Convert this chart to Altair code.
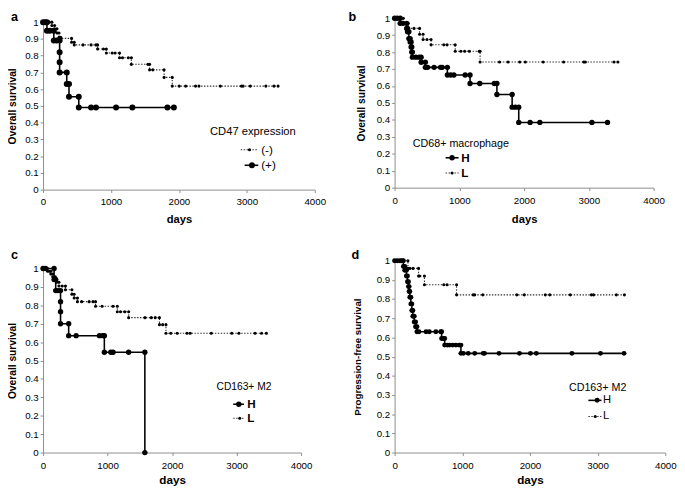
import altair as alt
import pandas as pd

FONT = "Liberation Sans"

# ---------------- data (days, survival) ----------------
# Panel a: CD47 expression
a_neg_t = [0, 45, 90, 130, 130, 170, 170, 205, 205, 235, 235, 260, 260, 420, 420, 459, 459, 588, 707, 779, 803,
           803, 889, 932, 932, 1018, 1061, 1126, 1126, 1170, 1255, 1300, 1300, 1544, 1568, 1568, 1616, 1782,
           1782, 1902, 1902, 2005, 2100, 2245, 2295, 2610, 2920, 2945, 3050, 3280, 3400, 3460]
a_neg_s = [1, 1, 1, 1, 0.98, 0.98, 0.96, 0.96, 0.935, 0.935, 0.91, 0.91, 0.903, 0.903, 0.88, 0.88, 0.864, 0.864,
           0.864, 0.864, 0.864, 0.84, 0.84, 0.84, 0.816, 0.816, 0.816, 0.816, 0.787, 0.787, 0.787, 0.787, 0.748,
           0.748, 0.748, 0.715, 0.715, 0.715, 0.67, 0.67, 0.618, 0.618, 0.618, 0.618, 0.618, 0.618, 0.618, 0.618,
           0.618, 0.618, 0.618, 0.618]
a_pos_t = [0, 30, 57, 57, 100, 158, 158, 200, 244, 244, 244, 244, 349, 349, 382, 382, 526, 526, 707, 779, 1075,
           1315, 1831, 1926]
a_pos_s = [1, 1, 1, 0.948, 0.948, 0.948, 0.89, 0.89, 0.89, 0.82, 0.76, 0.70, 0.70, 0.63, 0.63, 0.555, 0.555,
           0.49, 0.49, 0.49, 0.49, 0.49, 0.49, 0.49]

# Panel b: CD68+ macrophage
b_h_t = [0, 40, 86, 86, 130, 187, 187, 200, 200, 220, 220, 240, 240, 255, 255, 265, 265, 275, 275, 330, 380, 410,
         410, 475, 475, 510, 610, 710, 735, 815, 815, 865, 915, 1090, 1165, 1165, 1315, 1540, 1580, 1580, 1815,
         1815, 1866, 1917, 1917, 2093, 2243, 3047, 3288]
b_h_s = [1, 1, 1, 0.97, 0.97, 0.97, 0.94, 0.94, 0.92, 0.92, 0.88, 0.88, 0.86, 0.86, 0.83, 0.83, 0.80, 0.80, 0.77,
         0.77, 0.77, 0.77, 0.74, 0.74, 0.71, 0.71, 0.71, 0.71, 0.71, 0.71, 0.665, 0.665, 0.665, 0.665, 0.665,
         0.615, 0.615, 0.615, 0.615, 0.55, 0.55, 0.475, 0.475, 0.475, 0.385, 0.385, 0.385, 0.385, 0.385]
b_l_t = [0, 60, 100, 135, 135, 175, 210, 210, 300, 386, 386, 440, 440, 500, 563, 563, 760, 810, 936, 936, 1023,
         1082, 1155, 1306, 1320, 1320, 1620, 1752, 1932, 2018, 2294, 2610, 2921, 2946, 3388, 3448]
b_l_s = [1, 1, 1, 1, 0.97, 0.97, 0.97, 0.94, 0.94, 0.94, 0.905, 0.905, 0.875, 0.875, 0.875, 0.843, 0.843, 0.843,
         0.843, 0.805, 0.805, 0.805, 0.805, 0.805, 0.805, 0.742, 0.742, 0.742, 0.742, 0.742, 0.742, 0.742, 0.742,
         0.742, 0.742, 0.742]

# Panel c: CD163+ M2, overall survival
c_h_t = [0, 40, 171, 171, 190, 196, 196, 230, 271, 271, 271, 271, 397, 397, 513, 874, 925, 950, 950, 1050, 1085,
         1327, 1578, 1578]
c_h_s = [1, 1, 1, 0.94, 0.94, 0.94, 0.88, 0.88, 0.88, 0.82, 0.765, 0.70, 0.70, 0.635, 0.635, 0.635, 0.635,
         0.635, 0.545, 0.545, 0.545, 0.545, 0.545, 0]
c_l_t = [0, 40, 70, 70, 100, 120, 120, 150, 150, 190, 190, 211, 211, 246, 246, 296, 347, 347, 447, 447, 482, 482,
         533, 533, 598, 714, 774, 814, 814, 915, 1085, 1151, 1151, 1201, 1266, 1327, 1327, 1580, 1678, 1739, 1804,
         1804, 1854, 1905, 1905, 1980, 2080, 2231, 2281, 2608, 2925, 3035, 3286, 3387, 3462]
c_l_s = [1, 1, 1, 0.985, 0.985, 0.985, 0.97, 0.97, 0.955, 0.955, 0.94, 0.94, 0.925, 0.925, 0.905, 0.905, 0.905,
         0.885, 0.885, 0.86, 0.86, 0.84, 0.84, 0.82, 0.82, 0.82, 0.82, 0.82, 0.795, 0.795, 0.795, 0.795, 0.765,
         0.765, 0.765, 0.765, 0.733, 0.733, 0.733, 0.733, 0.733, 0.695, 0.695, 0.695, 0.648, 0.648, 0.648, 0.648,
         0.648, 0.648, 0.648, 0.648, 0.648, 0.648, 0.648]

# Panel d: CD163+ M2, progression-free survival
d_h_t = [0, 40, 80, 105, 130, 130, 150, 150, 175, 175, 190, 190, 205, 205, 215, 215, 225, 225, 240, 240, 255, 255,
         270, 270, 290, 290, 310, 310, 330, 330, 359, 465, 513, 609, 681, 695, 695, 720, 740, 740, 778, 810, 858,
         906, 954, 980, 980, 1016, 1088, 1184, 1310, 1328, 1543, 1845, 2007, 2093, 2620, 3042, 3390]
d_h_s = [1, 1, 1, 1, 1, 0.97, 0.97, 0.95, 0.95, 0.92, 0.92, 0.89, 0.89, 0.865, 0.865, 0.84, 0.84, 0.81, 0.81,
         0.775, 0.775, 0.74, 0.74, 0.71, 0.71, 0.68, 0.68, 0.656, 0.656, 0.63, 0.63, 0.63, 0.63, 0.63, 0.63, 0.63,
         0.595, 0.595, 0.595, 0.56, 0.56, 0.56, 0.56, 0.56, 0.56, 0.56, 0.517, 0.517, 0.517, 0.517, 0.517, 0.517,
         0.517, 0.517, 0.517, 0.517, 0.517, 0.517, 0.517]
d_l_t = [0, 40, 80, 120, 197, 197, 225, 273, 354, 354, 369, 441, 441, 728, 776, 916, 916, 1160, 1184, 1303, 1806,
         1916, 2227, 2294, 2596, 2908, 2941, 3276, 3396]
d_l_s = [1, 1, 1, 1, 1, 0.96, 0.96, 0.96, 0.96, 0.92, 0.92, 0.92, 0.875, 0.875, 0.875, 0.875, 0.822, 0.822,
         0.822, 0.822, 0.822, 0.822, 0.822, 0.822, 0.822, 0.822, 0.822, 0.822, 0.822]

y_ticks = [0, 0.1, 0.2, 0.3, 0.4, 0.5, 0.6, 0.7, 0.8, 0.9, 1]
x_ticks = [0, 1000, 2000, 3000, 4000]

one = pd.DataFrame({"k": [0]})
DOT_DASH = [1.5, 1.5]
DOT_COLOR = "#333333"


def series(t, s):
    return pd.DataFrame({"t": t, "s": s, "i": list(range(len(t)))})


def make_panel(w, h, top_gap, solid, dotted, ytitle, y_tp, ytitle_size, x_lp, x_tp, xtitle_size,
               msize, letter, lx, ly, legend, left_extent=None):
    # top_gap: empty space kept above the plotted y range inside the view
    vh = h + top_gap
    xenc = alt.X("t:Q", scale=alt.Scale(domain=[0, 4000], nice=False),
                 axis=alt.Axis(values=x_ticks, format="d", title="days", labelPadding=x_lp,
                               labelFlush=False, titlePadding=x_tp, titleFontSize=xtitle_size))
    yenc = alt.Y("s:Q", scale=alt.Scale(domain=[0, 1], nice=False, range=[vh, top_gap]),
                 axis=alt.Axis(values=y_ticks, format="~g", title=ytitle, titlePadding=y_tp,
                               labelFlush=False, titleFontSize=ytitle_size, labelPadding=2))
    ds = series(*dotted)
    ss = series(*solid)
    layers = [
        alt.Chart(ds).mark_line(color=DOT_COLOR, strokeWidth=1.1, strokeDash=DOT_DASH).encode(
            x=xenc, y=yenc, order="i:Q"),
        alt.Chart(ds).mark_circle(color="black", size=10, opacity=1).encode(x=xenc, y=yenc),
        alt.Chart(ss).mark_line(color="black", strokeWidth=1.6).encode(x=xenc, y=yenc, order="i:Q"),
        alt.Chart(ss).mark_circle(color="black", size=msize, opacity=1).encode(x=xenc, y=yenc),
    ]
    lt = legend["title"]
    layers.append(alt.Chart(one).mark_text(align=lt["align"], baseline="middle", font=FONT,
                                           fontSize=lt["size"], color="black").encode(
        x=alt.value(lt["x"]), y=alt.value(lt["y"] + top_gap), text=alt.value(lt["text"])))
    for e in legend["entries"]:
        yy = e["y"] + top_gap
        if e["kind"] == "solid":
            layers.append(alt.Chart(one).mark_rule(color="black", strokeWidth=1.6).encode(
                x=alt.value(e["x1"]), x2=alt.value(e["x2"]), y=alt.value(yy)))
            layers.append(alt.Chart(one).mark_circle(color="black", size=msize, opacity=1).encode(
                x=alt.value(e["mx"]), y=alt.value(yy)))
        else:
            layers.append(alt.Chart(one).mark_rule(color=DOT_COLOR, strokeWidth=1.1,
                                                   strokeDash=DOT_DASH).encode(
                x=alt.value(e["x1"]), x2=alt.value(e["x2"]), y=alt.value(yy)))
            layers.append(alt.Chart(one).mark_circle(color="black", size=10, opacity=1).encode(
                x=alt.value(e["mx"]), y=alt.value(yy)))
        layers.append(alt.Chart(one).mark_text(align="left", baseline="middle", font=FONT,
                                               fontSize=e["size"], fontWeight=e["weight"],
                                               color="black").encode(
            x=alt.value(e["tx"]), y=alt.value(yy), text=alt.value(e["label"])))
    layers.append(alt.Chart(one).mark_text(align="left", baseline="top", font=FONT, fontSize=13,
                                           fontWeight="bold", color="black").encode(
        x=alt.value(lx), y=alt.value(ly + top_gap), text=alt.value(letter)))
    if left_extent is not None:
        # invisible spacer so that stacked panels keep their plot areas aligned
        layers.append(alt.Chart(one).mark_rule(opacity=0, strokeWidth=0.1).encode(
            x=alt.value(left_extent), y=alt.value(60), y2=alt.value(61)))
    return alt.layer(*layers).properties(width=w, height=vh)


pa = make_panel(
    279, 172, 4, (a_pos_t, a_pos_s), (a_neg_t, a_neg_s), "Overall survival", 7, 10.5, 4, 7.3, 11.5, 38,
    "a", -33, -11,
    {"title": {"text": "CD47 expression", "x": 215.5, "y": 113, "align": "center", "size": 11.5},
     "entries": [
         {"kind": "dotted", "x1": 203, "x2": 221, "mx": 212, "y": 131, "tx": 224, "label": "(-)",
          "size": 12, "weight": "normal"},
         {"kind": "solid", "x1": 207, "x2": 221, "mx": 214.5, "y": 147, "tx": 224, "label": "(+)",
          "size": 12, "weight": "normal"}]})

pb = make_panel(
    266, 174, 0, (b_h_t, b_h_s), (b_l_t, b_l_s), "Overall survival", 10.4, 10.5, 5, 8.3, 11.5, 30,
    "b", -47.3, -7,
    {"title": {"text": "CD68+ macrophage", "x": 18.7, "y": 129, "align": "left", "size": 11},
     "entries": [
         {"kind": "solid", "x1": 52.4, "x2": 65.7, "mx": 59, "y": 143.3, "tx": 68.4, "label": "H",
          "size": 12, "weight": "bold"},
         {"kind": "dotted", "x1": 52.4, "x2": 65.7, "mx": 59, "y": 159, "tx": 68.4, "label": "L",
          "size": 12, "weight": "bold"}]})

pc = make_panel(
    265, 189, 0, (c_h_t, c_h_s), (c_l_t, c_l_s), "Overall survival", 7, 10.5, 5, 4.5, 12, 30,
    "c", -33, -20,
    {"title": {"text": "CD163+ M2", "x": 206.3, "y": 122, "align": "center", "size": 10.5},
     "entries": [
         {"kind": "solid", "x1": 195.3, "x2": 206.3, "mx": 201, "y": 139.4, "tx": 209.7, "label": "H",
          "size": 12, "weight": "bold"},
         {"kind": "dotted", "x1": 195.3, "x2": 206.3, "mx": 202, "y": 153.7, "tx": 209.7, "label": "L",
          "size": 12, "weight": "bold"}]})

pd_ = make_panel(
    278, 197, 0, (d_h_t, d_h_s), (d_l_t, d_l_s), "Progression-free survival", 13.8, 10, 5, 4.5, 12, 26,
    "d", -44.3, -12,
    {"title": {"text": "CD163+ M2", "x": 208.5, "y": 131, "align": "center", "size": 11},
     "entries": [
         {"kind": "solid", "x1": 199, "x2": 212.4, "mx": 208, "y": 143.4, "tx": 214, "label": "H",
          "size": 11.5, "weight": "normal"},
         {"kind": "dotted", "x1": 199, "x2": 212.4, "mx": 206, "y": 160, "tx": 214, "label": "L",
          "size": 11.5, "weight": "normal"}]},
    left_extent=-47.3)

col1 = alt.vconcat(pa, pc, spacing=25)
col2 = alt.vconcat(pb, pd_, spacing=25)

chart = alt.hconcat(col1, col2, spacing=22).properties(
    padding={"left": 0, "top": -3, "right": 0, "bottom": 0}, background="white"
).configure_axis(
    domainColor="#8c8c8c", tickColor="#8c8c8c", tickSize=3, labelFont=FONT, labelFontSize=10,
    labelColor="black", titleFont=FONT, titleFontWeight="bold", titleColor="black", grid=False
).configure_view(strokeWidth=0)

chart.save("out.html", embed_options={"renderer": "svg", "actions": False})
